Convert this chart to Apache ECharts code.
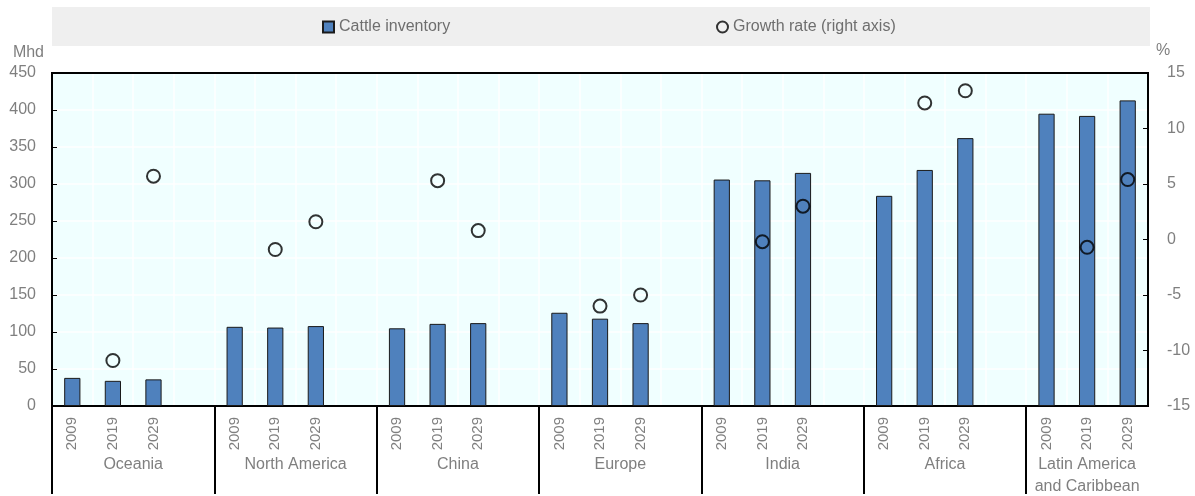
<!DOCTYPE html>
<html>
<head>
<meta charset="utf-8">
<script src="https://cdn.jsdelivr.net/npm/echarts@6/dist/echarts.min.js"></script>
<style>
html,body{margin:0;padding:0;background:#fff;}
#chart{width:1195px;height:496px;}
</style>
</head>
<body>
<div id="chart"></div>
<script>
// ---- data ----
const regions = ['Oceania', 'North America', 'China', 'Europe', 'India', 'Africa', 'Latin America\nand Caribbean'];
const years = ['2009', '2019', '2029'];
const inventory2009 = [38, 107, 105, 126, 306, 284, 395];
const inventory2019 = [34, 106, 111, 118, 305, 319, 392];
const inventory2029 = [36, 108, 112, 112, 315, 362, 413];
const growth2019 = [-10.9, -0.9, 5.3, -6.0, -0.2, 12.3, -0.7];
const growth2029 = [5.7, 1.6, 0.8, -5.0, 3.0, 13.4, 5.4];
const leftTicks = {min: 0, max: 450, interval: 50};
const rightTicks = {min: -15, max: 15, interval: 5};

// ---- build category slots (3 years + spacer per region, no spacer after last) ----
const yearCats = [], barData = [], dotData = [];
regions.forEach((r, i) => {
  yearCats.push(years[0], years[1], years[2]);
  barData.push(inventory2009[i], inventory2019[i], inventory2029[i]);
  dotData.push(null, growth2019[i], growth2029[i]);
  if (i < regions.length - 1) { yearCats.push(''); barData.push(null); dotData.push(null); }
});
// half-slot positions for region labels / separators
const nSlots = yearCats.length;
const regionCats = [];
for (let k = 0; k <= nSlots * 2; k++) regionCats.push('');
regions.forEach((r, i) => {
  const isLast = i === regions.length - 1;
  const width = isLast ? 3 : 4;
  regionCats[Math.round((i * 4 + width / 2) * 2)] = r;
});

const gray = '#7f7f7f';
const font = 'Liberation Sans, Arial, sans-serif';

const chart = echarts.init(document.getElementById('chart'));
chart.setOption({
  animation: false,
  textStyle: {fontFamily: font},
  graphic: [{
    type: 'rect', left: 52, top: 7, z: -10,
    shape: {width: 1098, height: 39},
    style: {fill: '#efefef'}
  }],
  legend: [{
    data: ['Cattle inventory'], left: 317, top: 14,
    itemWidth: 11, itemHeight: 11, icon: 'rect',
    textStyle: {color: '#6e6e6e', fontSize: 16, fontFamily: font}
  }, {
    data: ['Growth rate (right axis)'], left: 711, top: 14,
    itemWidth: 11, itemHeight: 11, icon: 'circle',
    textStyle: {color: '#6e6e6e', fontSize: 16, fontFamily: font}
  }],
  grid: [{
    left: 52, right: 47, top: 73, bottom: 90,
    show: true, backgroundColor: '#f0ffff', borderColor: '#000', borderWidth: 2
  }, {
    left: 52, right: 47, top: 406, bottom: 0, show: false
  }],
  xAxis: [{
    type: 'category', data: yearCats, boundaryGap: true, gridIndex: 0,
    axisLine: {show: true, onZero: false, lineStyle: {color: '#000', width: 2}},
    axisTick: {show: false},
    axisLabel: {interval: 0, rotate: 90, color: gray, fontSize: 15, margin: 11, fontFamily: font},
    splitLine: {show: true, interval: 0, lineStyle: {color: '#ffffff', width: 1.5}}
  }, {
    type: 'category', data: regionCats, boundaryGap: false, gridIndex: 1, position: 'top',
    axisLine: {show: false, onZero: false},
    axisTick: {show: false},
    axisLabel: {interval: 0, inside: true, color: gray, fontSize: 16, margin: 48, lineHeight: 22, verticalAlign: 'top', fontFamily: font},
    splitLine: {
      show: true,
      interval: function (idx) { return idx % 8 === 0 && idx < nSlots * 2; },
      lineStyle: {color: '#000', width: 2}
    }
  }, {
    type: 'category', data: yearCats, gridIndex: 0, position: 'top',
    axisLine: {show: true, onZero: false, lineStyle: {color: '#000', width: 2}},
    axisTick: {show: false}, axisLabel: {show: false}, splitLine: {show: false}
  }],
  yAxis: [{
    type: 'value', min: leftTicks.min, max: leftTicks.max, interval: leftTicks.interval, gridIndex: 0,
    name: 'Mhd', nameLocation: 'end', nameGap: 12,
    nameTextStyle: {color: gray, fontSize: 16, align: 'right', padding: [0, 8, 0, 0], fontFamily: font},
    axisLine: {show: true, onZero: false, lineStyle: {color: '#000', width: 2}},
    axisTick: {show: true, inside: true, length: 5, lineStyle: {color: '#000'}},
    axisLabel: {color: gray, fontSize: 16, margin: 16, fontFamily: font},
    splitLine: {show: true, lineStyle: {color: '#ffffff', width: 1.5}}
  }, {
    type: 'value', min: rightTicks.min, max: rightTicks.max, interval: rightTicks.interval, gridIndex: 0,
    name: '%', nameLocation: 'end', nameGap: 14,
    nameTextStyle: {color: gray, fontSize: 16, align: 'left', padding: [0, 0, 0, 8], fontFamily: font},
    axisLine: {show: true, onZero: false, lineStyle: {color: '#000', width: 2}},
    axisTick: {show: true, inside: true, length: 5, lineStyle: {color: '#000'}},
    axisLabel: {color: gray, fontSize: 16, margin: 19, align: 'left', fontFamily: font},
    splitLine: {show: false}
  }, {
    type: 'value', gridIndex: 1, min: 0, max: 1, show: false
  }],
  series: [{
    name: 'Cattle inventory', type: 'bar', data: barData, barWidth: '40%',
    xAxisIndex: 0, yAxisIndex: 0,
    itemStyle: {color: '#4f81bd', borderColor: '#1a1a1a', borderWidth: 1}
  }, {
    name: 'Growth rate (right axis)', type: 'scatter', data: dotData,
    xAxisIndex: 0, yAxisIndex: 1, symbol: 'circle', symbolSize: 13, z: 5,
    itemStyle: {color: 'rgba(255,255,255,0)', borderColor: '#000', borderWidth: 2}
  }]
});
</script>
</body>
</html>
